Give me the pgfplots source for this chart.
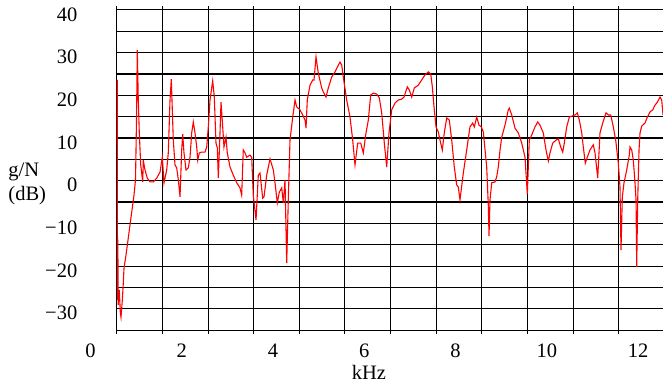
\documentclass[border=0pt]{standalone}
\usepackage{fontspec}
\setmainfont{Liberation Serif}
\usepackage{pgfplots}
\pgfplotsset{compat=1.18}
\pgfplotstableread{
x y
0.587 23.6
0.591 -4.5
0.595 -28.0
0.601 -13.9
0.609 -29.1
0.633 -25.6
0.655 -30.8
0.670 -32.0
0.699 -28.0
0.718 -24.5
0.736 -20.5
0.780 -17.4
0.824 -13.9
0.867 -10.4
0.911 -6.9
0.955 -3.4
0.988 0.2
1.010 14.2
1.027 30.6
1.049 18.9
1.071 11.2
1.102 3.7
1.146 -0.3
1.159 4.8
1.196 2.5
1.246 0.6
1.306 -0.3
1.378 -0.3
1.452 0.6
1.525 2.0
1.575 5.5
1.612 -0.5
1.671 2.5
1.706 6.5
1.744 18.9
1.772 23.8
1.816 9.5
1.853 3.7
1.890 3.0
1.926 0.2
1.963 -3.8
2.000 7.2
2.022 10.9
2.050 6.5
2.094 2.5
2.145 3.0
2.182 5.5
2.219 11.2
2.254 13.75
2.291 11.2
2.329 7.9
2.351 4.8
2.386 6.5
2.438 6.7
2.510 6.7
2.548 7.9
2.583 12.6
2.620 18.9
2.679 23.4
2.714 19.6
2.751 8.8
2.780 7.7
2.802 0.6
2.839 11.2
2.861 18.4
2.898 12.6
2.926 7.9
2.970 10.2
2.999 6.5
3.058 3.2
3.130 1.3
3.205 -0.5
3.277 -1.7
3.314 -3.4
3.349 7.2
3.387 6.5
3.424 5.5
3.496 6.0
3.533 5.5
3.568 -3.4
3.628 -9.2
3.678 1.3
3.715 1.8
3.774 -4.1
3.803 -3.8
3.862 1.3
3.934 5.1
4.007 2.5
4.044 -0.5
4.094 -5.2
4.138 -2.7
4.191 -1.7
4.226 -5.2
4.263 0.2
4.300 -19.3
4.335 -4.5
4.372 9.5
4.432 14.9
4.482 18.9
4.519 17.3
4.591 16.6
4.650 15.4
4.701 14.2
4.723 12.3
4.751 18.9
4.811 22.4
4.870 23.6
4.898 23.6
4.942 29.0
4.992 25.2
5.067 21.7
5.102 20.8
5.161 19.6
5.211 21.7
5.286 24.3
5.358 25.5
5.409 26.6
5.468 27.8
5.505 27.1
5.540 24.3
5.614 18.9
5.687 14.9
5.746 9.5
5.796 3.7
5.855 8.8
5.921 8.8
5.978 6.5
6.037 11.2
6.088 14.2
6.140 20.1
6.197 20.5
6.272 20.3
6.329 19.4
6.381 15.9
6.438 8.8
6.491 3.2
6.541 11.2
6.600 16.6
6.672 18.2
6.745 18.9
6.819 19.1
6.870 19.6
6.942 22.0
6.986 21.25
7.038 19.6
7.095 21.7
7.183 22.4
7.257 23.6
7.330 24.8
7.402 25.5
7.455 25.0
7.490 22.0
7.527 17.3
7.571 12.6
7.621 11.4
7.658 9.5
7.709 7.2
7.752 11.2
7.805 14.7
7.862 14.2
7.915 9.5
7.971 3.2
8.024 -1.0
8.059 -1.5
8.096 -4.5
8.169 1.8
8.243 7.2
8.315 12.6
8.374 13.5
8.410 12.6
8.462 14.9
8.513 13.0
8.563 12.6
8.607 11.4
8.681 3.2
8.716 -5.7
8.732 -13.0
8.753 -4.5
8.791 -0.5
8.863 -0.3
8.900 0.9
8.935 3.2
8.973 7.2
9.010 10.2
9.082 13.0
9.154 16.6
9.176 17.0
9.229 15.4
9.301 12.3
9.373 11.2
9.448 8.8
9.520 5.5
9.571 -3.1
9.614 9.5
9.667 10.7
9.739 12.6
9.798 13.75
9.849 13.0
9.921 11.2
9.980 7.2
10.031 4.6
10.068 6.5
10.127 8.8
10.200 9.5
10.250 9.8
10.302 7.9
10.346 6.7
10.381 8.8
10.434 12.6
10.491 14.9
10.565 15.2
10.616 15.4
10.666 15.9
10.710 14.2
10.763 11.2
10.797 7.9
10.841 4.1
10.885 5.5
10.944 7.2
11.016 8.4
11.054 6.5
11.113 0.6
11.163 11.2
11.222 13.5
11.295 15.9
11.345 15.4
11.398 15.4
11.455 12.6
11.507 9.5
11.564 4.1
11.601 -1.5
11.623 -16.3
11.652 -3.8
11.689 -0.5
11.748 2.5
11.805 6.0
11.820 7.9
11.858 7.2
11.893 4.8
11.930 -0.5
11.952 -4.5
11.967 -20.2
11.989 -4.5
12.018 7.2
12.040 11.2
12.077 12.8
12.149 13.5
12.200 14.9
12.258 16.1
12.318 16.6
12.368 17.7
12.419 18.4
12.478 19.6
12.515 18.9
12.543 15.4
}\gdata
\begin{document}
\begin{tikzpicture}
\begin{axis}[
  name=ax,
  set layers,
  scale only axis,
  width=547.8pt, height=320pt,
  xmin=0.576, xmax=12.576,
  ymin=-35, ymax=40,
  font=\fontsize{20.5}{23.7}\selectfont,
  xtick={0.576,1.576,2.576,3.576,4.576,5.576,6.576,7.576,8.576,9.576,10.576,11.576,12.576},
  xticklabels={0,,2,,4,,6,,8,,10,,12},
  xticklabel style={anchor=north, inner sep=0pt, yshift=-10pt, xshift=-26.3pt},
  ytick={-35,-30,...,40},
  yticklabels={,−30,,−20,,−10,,0,,10,,20,,30,,40},
  yticklabel style={anchor=east, inner sep=0pt, xshift=-35.7pt, yshift=-4.5pt},
  extra y ticks={25,10,-5},
  extra y tick labels={},
  extra y tick style={major grid style={black, line width=1.4pt}, ytick style={draw=none}},
  grid=major,
  major grid style={black, line width=1pt},
  axis line style={black, line width=1pt},
  tick align=outside,
  major tick length=3.5pt,
  xtick style={black, line width=1pt},
  ytick style={draw=none},
  xlabel={kHz},
  xlabel style={at={(axis description cs:0.4606,0)}, anchor=north, inner sep=0pt, yshift=-35pt},
  clip=false,
]
\addplot[red, line width=1.1pt] table[x=x, y=y] {\gdata};
\end{axis}
\node[align=left, anchor=west, inner sep=0pt, font=\fontsize{20.5}{23.7}\selectfont] at ([shift={(-108.4pt,146pt)}]ax.south west) {g/N\\(dB)};
\pgfresetboundingbox
\path[use as bounding box] ([shift={(-116.7pt,-53pt)}]ax.south west) rectangle ([shift={(-1.5pt,10pt)}]ax.north east);
\end{tikzpicture}
\end{document}
